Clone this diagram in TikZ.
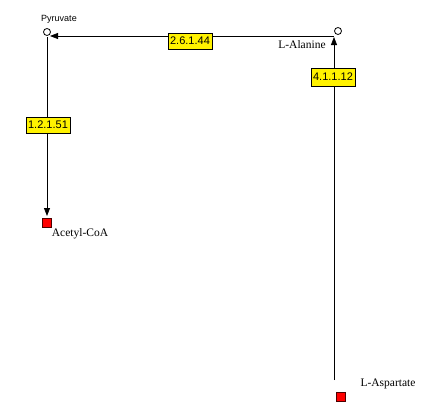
\documentclass[tikz,border=0pt]{standalone}
\usepackage{fontspec}
\setmainfont{Liberation Serif}
\setsansfont{Liberation Sans}
\usetikzlibrary{arrows.meta}
\begin{document}
\begin{tikzpicture}[x=1pt,y=-1pt,
  ec/.style={draw=black,fill=yellow,line width=0.8pt,inner sep=0pt,minimum width=44pt,minimum height=16pt,font=\sffamily\fontsize{11}{12}\selectfont},
  cpdopen/.style={circle,draw=black,line width=0.8pt,minimum size=7pt,inner sep=0pt},
  cpdred/.style={rectangle,draw=black!70!red,fill=red,line width=0.6pt,minimum size=9pt,inner sep=0pt},
  lab/.style={font=\fontsize{11.5}{13}\selectfont,inner sep=0pt},
  conn/.style={line width=0.8pt,-{Triangle[length=8pt,width=6pt]}},
  plain/.style={line width=0.8pt}]
\useasboundingbox (0,0) rectangle (429,415);
\fill[white] (0,0) rectangle (429,415);
% compounds
\node[cpdopen] (pyr) at (47,32) {};
\node[cpdopen] (ala) at (338,31) {};
\node[cpdred] (acoa) at (47,223) {};
\node[cpdred] (asp) at (341,397) {};
% labels
\node[font=\sffamily\fontsize{9}{10}\selectfont,inner sep=0pt] (pyrlab) at (59,19) {Pyruvate};
\node[lab] (alalab) at (302,45) {L-Alanine};
\node[lab] (acoalab) at (80,234) {Acetyl-CoA};
\node[lab] (asplab) at (388,384) {L-Aspartate};
% connector end points
\coordinate (hA) at (334,36);
\coordinate (hP) at (50,36);
\coordinate (vP) at (47,37);
\coordinate (vA) at (47,216);
\coordinate (rS) at (334,380);
\coordinate (rE) at (334,37);
% connectors
\draw[conn] (hA) -- (hP);
\draw[conn] (vP) -- (vA);
\draw[conn] (rS) -- (rE);
% enzymes
\node[ec] (e1) at (190,41) {2.6.1.44};
\node[ec] (e2) at (48,125) {1.2.1.51};
\node[ec,minimum height=18pt] (e3) at (333,77) {4.1.1.12};
\end{tikzpicture}
\end{document}
